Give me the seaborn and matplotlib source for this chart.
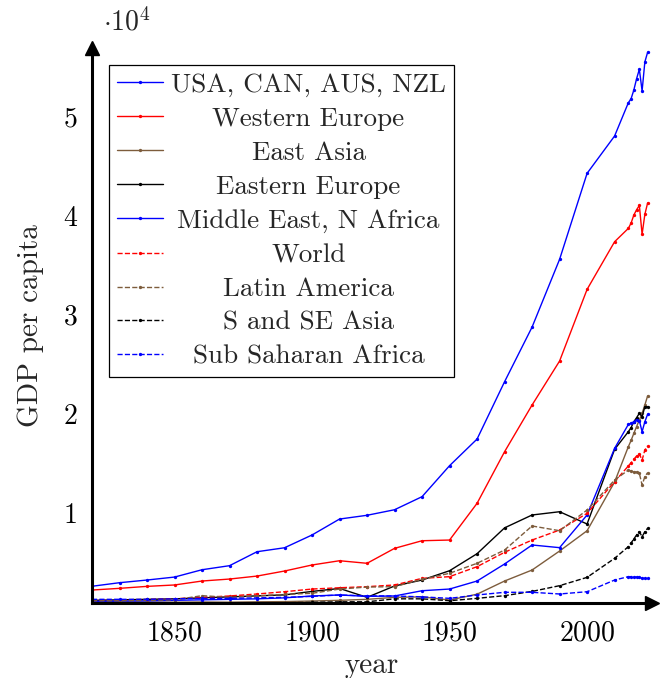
import numpy as np
import pandas as pd
import seaborn as sns
import matplotlib.pyplot as plt
from matplotlib.ticker import FuncFormatter
from matplotlib.transforms import Bbox

# data (GDP per capita)
years = [1820, 1830, 1840, 1850, 1860, 1870, 1880, 1890, 1900, 1910, 1920, 1930, 1940,
         1950, 1960, 1970, 1980, 1990, 2000, 2010, 2015, 2016, 2017, 2018, 2019, 2020,
         2021, 2022]

usa = [2570, 2930, 3200, 3500, 4240, 4650, 6060, 6460, 7750, 9360, 9740, 10300, 11620,
       14750, 17440, 23230, 28750, 35590, 44280, 48050, 51410, 51820, 52700, 53840, 54790,
       52600, 55530, 56500]
west_europe = [2190, 2360, 2560, 2700, 3100, 3300, 3600, 4110, 4720, 5150, 4890, 6400, 7170,
               7240, 10950, 16160, 20880, 25320, 32560, 37370, 38720, 39260, 40070, 40600,
               41040, 38120, 40130, 41280]
east_asia = [1000, 990, 980, 960, 980, 960, 1000, 1020, 1080, 1150, 1250, 1450, 1500,
             1180, 1770, 3100, 4210, 6130, 8180, 13100, 16670, 17300, 18020, 18700, 19360,
             20040, 20880, 21790]
east_europe = [1150, 1200, 1250, 1300, 1400, 1500, 1600, 1700, 2050, 2350, 1450, 2600, 3200,
               4140, 5860, 8470, 9770, 10100, 8860, 16400, 18180, 18600, 19190, 19600, 20040,
               19700, 20700, 20700]
mena = [1050, 1070, 1100, 1150, 1200, 1250, 1300, 1400, 1590, 1690, 1550, 1590, 2120,
        2290, 3100, 4820, 6740, 6470, 9770, 16500, 18920, 19050, 19190, 19400, 19300,
        18180, 19190, 19940]
world = [1200, 1200, 1230, 1300, 1450, 1590, 1790, 2020, 2290, 2420, 2530, 2700, 3370,
         3540, 4550, 6000, 7240, 8250, 9940, 13130, 14720, 15050, 15390, 15730, 15930,
         15320, 16330, 16740]
latin_america = [1100, 1100, 1150, 1200, 1620, 1450, 1600, 1750, 1860, 2290, 2490, 2530, 3270,
                 3880, 4890, 6230, 8660, 8180, 10270, 13300, 14310, 14200, 14140, 14100,
                 13970, 12800, 13640, 14040]
s_se_asia = [900, 890, 880, 870, 880, 860, 880, 900, 950, 1000, 1000, 1300, 1300,
             1110, 1350, 1620, 2050, 2630, 3470, 5390, 6570, 6950, 7350, 7750, 8080,
             7580, 8080, 8420]
ssa = [1250, 1250, 1250, 1300, 1350, 1350, 1400, 1450, 1550, 1690, 1600, 1590, 1500,
       1350, 1690, 1960, 1960, 1790, 2020, 3200, 3540, 3540, 3500, 3500, 3480,
       3370, 3370, 3440]

regions = ['USA, CAN, AUS, NZL', 'Western Europe', 'East Asia', 'Eastern Europe',
           'Middle East, N Africa', 'World', 'Latin America', 'S and SE Asia',
           'Sub Saharan Africa']
series = [usa, west_europe, east_asia, east_europe, mena, world, latin_america, s_se_asia, ssa]

brown = '#7d5c3c'
colors = ['blue', 'red', brown, 'black', 'blue', 'red', brown, 'black', 'blue']
styles = ['-', '-', '-', '-', '-', '--', '--', '--', '--']

sns.set_style("white")
plt.rcParams['font.family'] = 'serif'
plt.rcParams['font.serif'] = ['cmr10']
plt.rcParams['mathtext.fontset'] = 'cm'
plt.rcParams['axes.formatter.use_mathtext'] = True

fs = 20
fig = plt.figure(figsize=(6.66, 6.78), dpi=100)
ax = fig.add_axes([92 / 666, 75 / 678, 560 / 666, 555 / 678])

for name, vals, c, ls in zip(regions, series, colors, styles):
    df = pd.DataFrame({'year': years, 'gdp': vals})
    line_kw = dict(dashes=(5, 4)) if ls == '--' else {}
    sns.lineplot(data=df, x='year', y='gdp', color=c, linestyle=ls, lw=1.0,
                 marker='o', ms=2.4, mew=0, label=name, ax=ax, **line_kw)

ax.set_xlim(1820, 2023.6)
ax.set_ylim(880, 56940)
ax.set_xticks([1850, 1900, 1950, 2000])
ax.set_yticks([10000, 20000, 30000, 40000, 50000])
ax.yaxis.set_major_formatter(FuncFormatter(lambda v, _: f'{v / 1e4:g}'))
ax.tick_params(axis='both', which='major', direction='inout', length=9, width=0.8,
               color='#808080', labelsize=fs, labelcolor='black')
ax.tick_params(axis='x', pad=8)
ax.tick_params(axis='y', pad=6)

for side in ['top', 'right']:
    ax.spines[side].set_visible(False)
for side in ['left', 'bottom']:
    ax.spines[side].set_linewidth(2.2)
    ax.spines[side].set_color('black')
ax.plot(1, 0, '>k', ms=10, transform=ax.transAxes, clip_on=False)
ax.plot(0, 1, '^k', ms=10, transform=ax.transAxes, clip_on=False)

ax.set_xlabel('year', fontsize=21, labelpad=4)
ax.set_ylabel('GDP per capita', fontsize=21, labelpad=14)
ax.text(0.02, 1.02, r'$\cdot 10^{4}$', transform=ax.transAxes, fontsize=fs, va='bottom')

leg = ax.legend(loc='upper left', bbox_to_anchor=(0.03, 0.97), borderaxespad=0,
                fontsize=19.5, frameon=True, fancybox=False, edgecolor='black',
                framealpha=1, handlelength=1.7, handletextpad=0.3, borderpad=0.3,
                labelspacing=0.37, numpoints=1)
leg.get_frame().set_linewidth(0.9)

# centre the legend labels like pgfplots does
fig.canvas.draw()
r = fig.canvas.get_renderer()
areas = [hp.get_children()[1] for col in leg._legend_handle_box.get_children()
         for hp in col.get_children()]
wmax = max(a.get_bbox(r).width for a in areas)
for a in areas:
    a._text.set_ha('center')
    def gb(renderer, orig=a.get_bbox):
        b = orig(renderer)
        return Bbox.from_bounds(-wmax / 2, b.y0, wmax, b.height)
    a.get_bbox = gb

fig.savefig('out.png', dpi=100)
